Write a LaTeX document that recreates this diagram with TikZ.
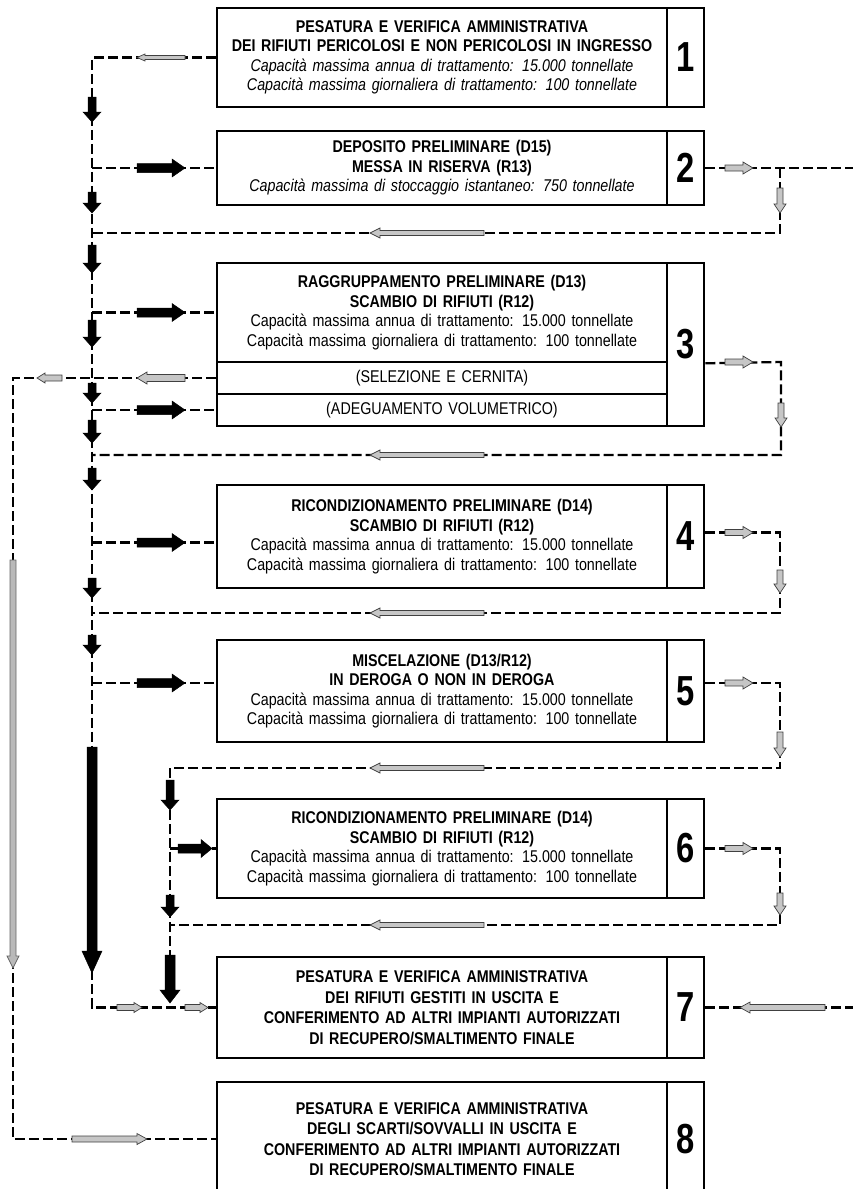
\documentclass[tikz,border=0pt]{standalone}
\usepackage{fontspec}
\setmainfont{Liberation Sans}[FakeStretch=0.84]
\newfontfamily\numfont{Liberation Sans}[FakeStretch=0.78]
\usetikzlibrary{calc}
% horizontal block arrow: style, x tail, x tip, y, shaft half, head half, head length
\newcommand{\hblk}[7]{%
  \pgfmathsetmacro{\hbx}{#3-sign(#3-#2)*(#7)}%
  \path[#1] (#2,#4-#5) -- (\hbx,#4-#5) -- (\hbx,#4-#6) -- (#3,#4) -- (\hbx,#4+#6) -- (\hbx,#4+#5) -- (#2,#4+#5) -- cycle;}
% vertical block arrow: style, y tail, y tip, x, shaft half, head half, head length
\newcommand{\vblk}[7]{%
  \pgfmathsetmacro{\hby}{#3-sign(#3-#2)*(#7)}%
  \path[#1] (#4-#5,#2) -- (#4-#5,\hby) -- (#4-#6,\hby) -- (#4,#3) -- (#4+#6,\hby) -- (#4+#5,\hby) -- (#4+#5,#2) -- cycle;}
\begin{document}
\begin{tikzpicture}[x=1pt,y=-1pt,
  box/.style={draw=black, line width=2.6pt, fill=white, inner sep=0pt,
    minimum width=450pt, text width=440pt, align=center,
    font=\fontsize{17}{19.5}\selectfont},
  boxb/.style={box, font=\fontsize{17}{20.5}\selectfont},
  row/.style={box, minimum height=32pt},
  num/.style={draw=black, line width=2.6pt, fill=white, inner sep=0pt,
    minimum width=37pt, font=\numfont\bfseries\fontsize{42}{42}\selectfont},
  dl/.style={line width=2.3pt, dash pattern=on 10pt off 4pt},
  dk/.style={fill=black, draw=black, line width=0.5pt},
  hol/.style={fill=gray!45, draw=black!75, line width=0.7pt},
  gry/.style={fill=gray!55, draw=black!60, line width=0.7pt}]
\useasboundingbox (0,0) rectangle (853,1189);
\clip (0,0) rectangle (853,1189);

% ---------- boxes ----------
\node[box, minimum height=99pt] (b1) at (442,57.5)
  {\textbf{PESATURA E VERIFICA AMMINISTRATIVA}\\
   \textbf{DEI RIFIUTI PERICOLOSI E NON PERICOLOSI IN INGRESSO}\\
   \textit{Capacità massima annua di trattamento: 15.000 tonnellate}\\
   \textit{Capacità massima giornaliera di trattamento: 100 tonnellate}};
\node[num, minimum height=99pt] (n1) at (685.5,57.5) {1};

\node[box, minimum height=74pt] (b2) at (442,168)
  {\textbf{DEPOSITO PRELIMINARE (D15)}\\
   \textbf{MESSA IN RISERVA (R13)}\\
   \textit{Capacità massima di stoccaggio istantaneo: 750 tonnellate}};
\node[num, minimum height=74pt] (n2) at (685.5,168) {2};

\node[box, minimum height=99pt] (b3) at (442,312.5)
  {\textbf{RAGGRUPPAMENTO PRELIMINARE (D13)}\\
   \textbf{SCAMBIO DI RIFIUTI (R12)}\\
   Capacità massima annua di trattamento: 15.000 tonnellate\\
   Capacità massima giornaliera di trattamento: 100 tonnellate};
\node[row] (s3) at (442,378) {(SELEZIONE E CERNITA)};
\node[row] (a3) at (442,410) {(ADEGUAMENTO VOLUMETRICO)};
\node[num, minimum height=163pt] (n3) at (685.5,344.5) {3};

\node[box, minimum height=103pt] (b4) at (442,536.5)
  {\textbf{RICONDIZIONAMENTO PRELIMINARE (D14)}\\
   \textbf{SCAMBIO DI RIFIUTI (R12)}\\
   Capacità massima annua di trattamento: 15.000 tonnellate\\
   Capacità massima giornaliera di trattamento: 100 tonnellate};
\node[num, minimum height=103pt] (n4) at (685.5,536.5) {4};

\node[box, minimum height=102pt] (b5) at (442,691)
  {\textbf{MISCELAZIONE (D13/R12)}\\
   \textbf{IN DEROGA O NON IN DEROGA}\\
   Capacità massima annua di trattamento: 15.000 tonnellate\\
   Capacità massima giornaliera di trattamento: 100 tonnellate};
\node[num, minimum height=102pt] (n5) at (685.5,691) {5};

\node[box, minimum height=99pt] (b6) at (442,848.5)
  {\textbf{RICONDIZIONAMENTO PRELIMINARE (D14)}\\
   \textbf{SCAMBIO DI RIFIUTI (R12)}\\
   Capacità massima annua di trattamento: 15.000 tonnellate\\
   Capacità massima giornaliera di trattamento: 100 tonnellate};
\node[num, minimum height=99pt] (n6) at (685.5,848.5) {6};

\node[boxb, minimum height=101pt] (b7) at (442,1007.5)
  {\textbf{PESATURA E VERIFICA AMMINISTRATIVA}\\
   \textbf{DEI RIFIUTI GESTITI IN USCITA E}\\
   \textbf{CONFERIMENTO AD ALTRI IMPIANTI AUTORIZZATI}\\
   \textbf{DI RECUPERO/SMALTIMENTO FINALE}};
\node[num, minimum height=101pt] (n7) at (685.5,1007.5) {7};

\node[boxb, minimum height=114pt] (b8) at (442,1139)
  {\textbf{PESATURA E VERIFICA AMMINISTRATIVA}\\
   \textbf{DEGLI SCARTI/SOVVALLI IN USCITA E}\\
   \textbf{CONFERIMENTO AD ALTRI IMPIANTI AUTORIZZATI}\\
   \textbf{DI RECUPERO/SMALTIMENTO FINALE}};
\node[num, minimum height=114pt] (n8) at (685.5,1139) {8};

% ---------- dashed connectors ----------
\coordinate (M1) at (92,57.5);
\coordinate (M7) at (92,1007.5);
\draw[dl] (b1.west) -- (M1) -- (M7) -- (b7.west);
\draw[dl] (M1 |- b2.west) -- (b2.west);
\draw[dl] (M1 |- b3.west) -- (b3.west);
\draw[dl] (M1 |- a3.west) -- (a3.west);
\coordinate (e4) at ([yshift=-6pt]b4.west);
\draw[dl] (M1 |- e4) -- (e4);
\coordinate (e5) at ([yshift=8pt]b5.west);
\draw[dl] (M1 |- e5) -- (e5);

\coordinate (X3) at (13,378);
\draw[dl] (s3.west) -- (X3) -- (X3 |- b8.west) -- (b8.west);

\coordinate (E2) at (860,168);
\coordinate (R2) at (780,168);
\coordinate (R2b) at (780,233);
\coordinate (M2) at (92,233);
\draw[dl] (n2.east) -- (E2);
\draw[dl] (R2) -- (R2b) -- (M2);

\coordinate (R3) at (781,362);
\coordinate (R3b) at (781,455);
\coordinate (M3) at (92,455);
\draw[dl] (n3.east |- b3.south) -- (R3) -- (R3b) -- (M3);

\coordinate (o4) at ([yshift=4pt]n4.east);
\coordinate (R4) at (780,532.5);
\coordinate (R4b) at (780,613);
\coordinate (M4) at (92,613);
\draw[dl] (o4) -- (R4) -- (R4b) -- (M4);

\coordinate (o5) at ([yshift=8pt]n5.east);
\coordinate (R5) at (780,683);
\coordinate (R5b) at (780,768);
\coordinate (K5) at (170,768);
\coordinate (K7) at (170,1007.5);
\draw[dl] (o5) -- (R5) -- (R5b) -- (K5) -- (K7);
\draw[dl] (K5 |- b6.west) -- (b6.west);

\coordinate (R6) at (780,848.5);
\coordinate (R6b) at (780,925);
\coordinate (K6) at (170,925);
\draw[dl] (n6.east) -- (R6) -- (R6b) -- (K6);

\coordinate (E7) at (860,1007.5);
\draw[dl] (n7.east) -- (E7);

% ---------- arrow glyphs ----------
% dark entry arrows
\hblk{dk}{137}{185}{168}{4.5}{9}{13}
\hblk{dk}{137}{185}{312.5}{4.5}{9}{13}
\hblk{dk}{137}{185}{410}{4.5}{9}{13}
\hblk{dk}{137}{185}{542.5}{4.5}{9}{13}
\hblk{dk}{137}{185}{683}{4.5}{9}{13}
\hblk{dk}{178}{212}{848.5}{4.5}{9}{11}
% dark down arrows, main line
\vblk{dk}{97}{122}{92}{4}{9}{10}
\vblk{dk}{192}{213}{92}{4}{9}{10}
\vblk{dk}{245}{273}{92}{4}{9}{10}
\vblk{dk}{320}{347}{92}{4}{9}{10}
\vblk{dk}{383}{403}{92}{4}{9}{10}
\vblk{dk}{420}{443}{92}{4}{9}{10}
\vblk{dk}{468}{490}{92}{4}{9}{10}
\vblk{dk}{578}{598}{92}{4}{9}{10}
\vblk{dk}{635}{655}{92}{4}{9}{10}
\vblk{dk}{747}{973}{92}{5}{10}{22}
% dark down arrows, second line
\vblk{dk}{780}{810}{170}{4}{9}{10}
\vblk{dk}{895}{917}{170}{4}{9}{10}
\vblk{dk}{955}{1003}{170}{5}{10}{13}
% hollow arrows
\hblk{hol}{185}{137}{57.5}{2}{3.5}{8}
\hblk{hol}{185}{137}{378}{3.5}{6}{10}
\hblk{hol}{62}{37}{378}{3}{5}{8}
\hblk{hol}{725}{753}{168}{3}{6}{10}
\hblk{hol}{725}{753}{362}{3}{6}{10}
\hblk{hol}{725}{753}{532.5}{3}{6}{10}
\hblk{hol}{725}{753}{683}{3}{6}{10}
\hblk{hol}{725}{753}{848.5}{3}{6}{10}
\vblk{hol}{188}{213}{780}{3}{6}{9}
\vblk{hol}{403}{427}{781}{3}{6}{9}
\vblk{hol}{570}{593}{780}{3}{6}{9}
\vblk{hol}{732}{757}{780}{3}{6}{9}
\vblk{hol}{893}{915}{780}{3}{6}{9}
\hblk{hol}{484}{370}{233}{2.5}{5}{10}
\hblk{hol}{484}{370}{455}{2.5}{5}{10}
\hblk{hol}{484}{370}{613}{2.5}{5}{10}
\hblk{hol}{484}{370}{768}{2.5}{5}{10}
\hblk{hol}{484}{370}{925}{2.5}{5}{10}
\hblk{hol}{825}{740}{1007.5}{3}{5.5}{10}
\hblk{hol}{117}{142}{1007.5}{3}{5}{8}
\hblk{hol}{185}{208}{1007.5}{3}{5}{8}
\hblk{hol}{72}{147}{1139}{3}{5.5}{10}
\vblk{gry}{560}{968}{13}{3}{6}{12}
\end{tikzpicture}
\end{document}
